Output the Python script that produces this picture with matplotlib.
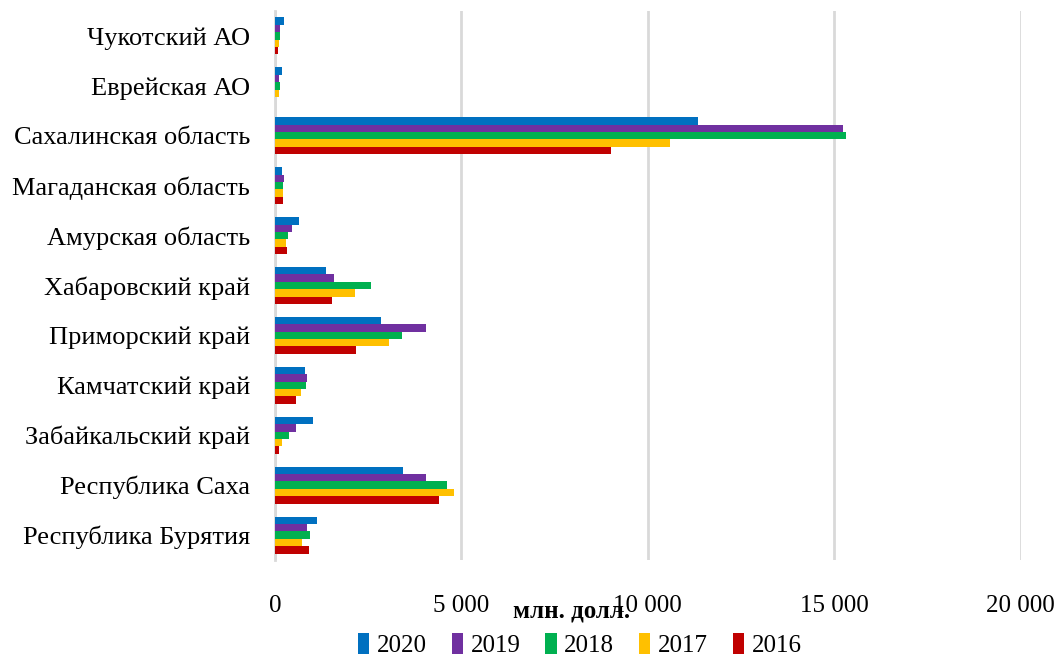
import matplotlib.pyplot as plt
import numpy as np
from matplotlib.ticker import FuncFormatter

plt.rcParams['font.family'] = ['Liberation Serif', 'DejaVu Serif']

regions = ['Чукотский АО', 'Еврейская АО', 'Сахалинская область', 'Магаданская область',
           'Амурская область', 'Хабаровский край', 'Приморский край', 'Камчатский край',
           'Забайкальский край', 'Республика Саха', 'Республика Бурятия']
years = ['2020', '2019', '2018', '2017', '2016']

# млн. долл., по регионам (сверху вниз)
v2020 = [240, 180, 11350, 190, 635, 1365, 2835, 815, 1030, 3425, 1140]
v2019 = [145, 110, 15240, 235, 465, 1590, 4050, 850, 575, 4045, 860]
v2018 = [125, 135, 15320, 225, 360, 2565, 3405, 835, 385, 4600, 935]
v2017 = [100, 100, 10600, 225, 295, 2135, 3065, 690, 195, 4790, 735]
v2016 = [80, 10, 9010, 215, 330, 1540, 2170, 555, 100, 4395, 915]
series = [v2020, v2019, v2018, v2017, v2016]
colors = ['#0070C0', '#7030A0', '#00B050', '#FFC000', '#C00000']

fig = plt.figure(figsize=(10.6, 6.57), dpi=100)
ax = fig.add_axes([0.2594, 0.1476, 0.7036, 0.8357])

y = np.arange(len(regions))
h = 0.148
for i, (vals, c, yr) in enumerate(zip(series, colors, years)):
    ax.barh(y + (i - 2) * h, vals, height=h, color=c, label=yr, zorder=3)

ax.set_xlim(0, 20000)
ax.set_ylim(len(regions) - 0.5, -0.5)
ax.set_xticks([0, 5000, 10000, 15000, 20000])
ax.xaxis.set_major_formatter(FuncFormatter(lambda v, p: f'{int(v):,}'.replace(',', ' ')))
ax.set_yticks(y)
ax.set_yticklabels(regions)
ax.tick_params(axis='both', length=0)
ax.tick_params(axis='y', pad=18, labelsize=19)
ax.tick_params(axis='x', pad=25, labelsize=18)

ax.grid(axis='x', color='#d9d9d9', linewidth=2, zorder=0)
for s in ['top', 'right', 'bottom']:
    ax.spines[s].set_visible(False)
ax.spines['left'].set_color('#d9d9d9')
ax.spines['left'].set_linewidth(2)

fig.text(0.539, 0.07, 'млн. долл.', fontsize=18, fontweight='bold', ha='center', va='center')

fig.legend(loc='center', bbox_to_anchor=(0.547, 0.018), ncol=5, frameon=False, fontsize=18,
           handlelength=0.45, handleheight=0.9, handletextpad=0.3, columnspacing=1.0)

fig.savefig('out.png', dpi=100)
